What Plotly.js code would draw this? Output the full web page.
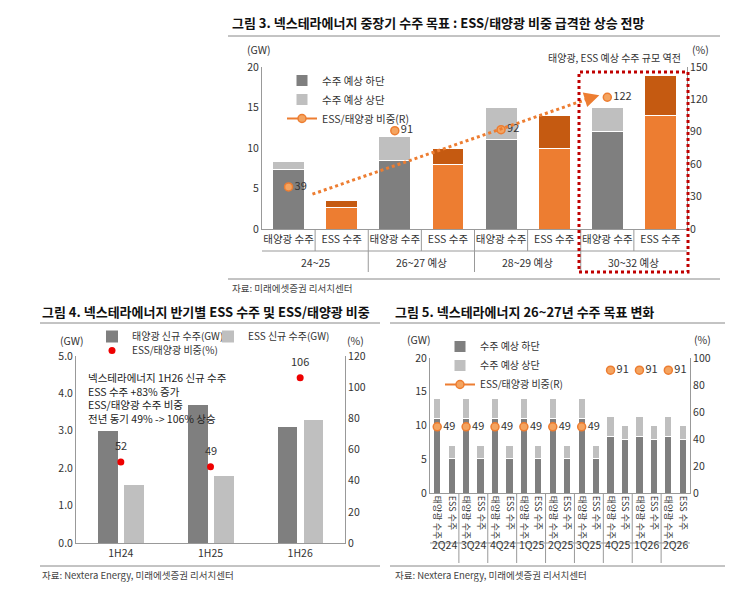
<!DOCTYPE html>
<html><head><meta charset="utf-8">
<script src="https://cdn.plot.ly/plotly-3.0.1.min.js"></script>
<style>body{margin:0;background:#fff}#c{width:748px;height:602px}</style>
</head><body><div id="c"></div>
<script>
// ---- chart 1: 중장기 수주 목표
var c1Labels = ['태양광 수주','ESS 수주','태양광 수주','ESS 수주','태양광 수주','ESS 수주','태양광 수주','ESS 수주'];
var c1Groups = ['24~25','26~27 예상','28~29 예상','30~32 예상'];
var c1SolarLow = [7.4, 8.5, 11, 12];
var c1SolarHigh = [8.3, 11.4, 15, 15];
var c1EssLow = [2.6, 8, 10, 14];
var c1EssHigh = [3.5, 10, 14, 19];
var c1Ratio = [39, 91, 92, 122];

// ---- chart 2: 반기별 ESS 수주
var c2Cats = ['1H24','1H25','1H26'];
var c2Solar = [3.0, 3.7, 3.1];
var c2Ess = [1.55, 1.8, 3.3];
var c2Ratio = [52, 49, 106];

// ---- chart 3: 26~27년 수주 목표 변화
var c3Quarters = ['2Q24','3Q24','4Q24','1Q25','2Q25','3Q25','4Q25','1Q26','2Q26'];
var c3SolarLow = [11, 11, 11, 11, 11, 11, 8.4, 8.4, 8.4];
var c3SolarHigh = [14, 14, 14, 14, 14, 14, 11.4, 11.4, 11.4];
var c3EssLow = [5.1, 5.1, 5.1, 5.1, 5.1, 5.1, 7.9, 7.9, 7.9];
var c3EssHigh = [7.1, 7.1, 7.1, 7.1, 7.1, 7.1, 10, 10, 10];
var c3Ratio = [49, 49, 49, 49, 49, 49, 91, 91, 91];

var FONT = 'Noto Sans CJK KR, Noto Sans, sans-serif';
var DG = '#7f7f7f', LG = '#bfbfbf', OR = '#ed7d31', DOR = '#c55a11';
function fx(p){return p/748;}
function fy(p){return 1-p/602;}

var traces = [];
function idx(arr, off){return arr.map(function(_,i){return 2*i+off;});}
function interleave(a, gap){var r=[];a.forEach(function(v){r.push(v);r.push(gap);});return r;}
function pairs(n){var r=[];for(var i=0;i<n;i++){r.push(2*i);r.push(2*i+1);}return r;}
// chart 1 traces
traces.push({type:'bar',x:idx(c1SolarLow,0),y:c1SolarLow,name:'수주 예상 하단',marker:{color:DG,line:{color:'#fff',width:1}},width:0.6,xaxis:'x',yaxis:'y',legend:'legend'});
traces.push({type:'bar',x:idx(c1SolarLow,0),y:c1SolarHigh.map(function(v,i){return v-c1SolarLow[i];}),name:'수주 예상 상단',marker:{color:LG,line:{color:'#fff',width:1}},width:0.6,xaxis:'x',yaxis:'y',legend:'legend'});
traces.push({type:'bar',x:idx(c1EssLow,1),y:c1EssLow,showlegend:false,marker:{color:OR,line:{color:'#fff',width:1}},width:0.6,xaxis:'x',yaxis:'y'});
traces.push({type:'bar',x:idx(c1EssLow,1),y:c1EssHigh.map(function(v,i){return v-c1EssLow[i];}),showlegend:false,marker:{color:DOR,line:{color:'#fff',width:1}},width:0.6,xaxis:'x',yaxis:'y'});
traces.push({type:'scatter',mode:'lines+markers+text',x:pairs(c1Ratio.length),y:interleave(c1Ratio,null),connectgaps:false,
  text:interleave(c1Ratio.map(String),''),textposition:'middle right',textfont:{size:11,color:'#333'},
  name:'ESS/태양광 비중(R)',line:{color:OR,width:2},marker:{color:'#f4a460',size:8,line:{color:OR,width:1.5}},xaxis:'x',yaxis:'y2',legend:'legend'});

// chart 2 traces
traces.push({type:'bar',x:c2Cats,y:c2Solar,name:'태양광 신규 수주(GW)',marker:{color:DG},width:0.22,offset:-0.25,offsetgroup:'s',xaxis:'x2',yaxis:'y3',legend:'legend2'});
traces.push({type:'bar',x:c2Cats,y:c2Ess,name:'ESS 신규 수주(GW)',marker:{color:LG},width:0.22,offset:0.04,offsetgroup:'e',xaxis:'x2',yaxis:'y3',legend:'legend5'});
traces.push({type:'scatter',mode:'markers',x:c2Cats,y:c2Ratio,name:'ESS/태양광 비중(%)',marker:{color:'#e00',size:7},xaxis:'x2',yaxis:'y4',legend:'legend4'});

// chart 3 traces
var n3 = c3Quarters.length;
traces.push({type:'bar',x:idx(c3SolarLow,0),y:c3SolarLow,name:'수주 예상 하단',marker:{color:DG,line:{color:'#fff',width:1}},width:0.5,xaxis:'x3',yaxis:'y5',legend:'legend3'});
traces.push({type:'bar',x:idx(c3SolarLow,0),y:c3SolarHigh.map(function(v,i){return v-c3SolarLow[i];}),name:'수주 예상 상단',marker:{color:LG,line:{color:'#fff',width:1}},width:0.5,xaxis:'x3',yaxis:'y5',legend:'legend3'});
traces.push({type:'bar',x:idx(c3EssLow,1),y:c3EssLow,showlegend:false,marker:{color:DG,line:{color:'#fff',width:1}},width:0.5,xaxis:'x3',yaxis:'y5'});
traces.push({type:'bar',x:idx(c3EssLow,1),y:c3EssHigh.map(function(v,i){return v-c3EssLow[i];}),showlegend:false,marker:{color:LG,line:{color:'#fff',width:1}},width:0.5,xaxis:'x3',yaxis:'y5'});
traces.push({type:'scatter',mode:'lines+markers+text',x:pairs(n3),y:interleave(c3Ratio,null),connectgaps:false,
  text:interleave(c3Ratio.map(String),''),textposition:'middle right',textfont:{size:11,color:'#333'},
  name:'ESS/태양광 비중(R)',line:{color:OR,width:2},marker:{color:'#f4a460',size:8,line:{color:OR,width:1.5}},xaxis:'x3',yaxis:'y6',legend:'legend3'});

var tickF = {size:10.5,color:'#333',family:FONT};
var axBase = {showgrid:false,zeroline:false,ticks:'',tickfont:tickF,showline:true,linecolor:'#999'};
var c3Labels = [];
c3Quarters.forEach(function(){c3Labels.push('태양광 수주');c3Labels.push('ESS 수주');});

var legBase = {xanchor:'left',yanchor:'top',bgcolor:'rgba(0,0,0,0)',traceorder:'normal',tracegroupgap:0,itemwidth:30};
var layout = {
  width:748,height:602,margin:{l:0,r:0,t:0,b:0},paper_bgcolor:'#fff',plot_bgcolor:'rgba(0,0,0,0)',
  font:{family:FONT,color:'#333'},barmode:'stack',showlegend:true,
  xaxis:Object.assign({},axBase,{domain:[fx(262),fx(687)],range:[-0.5,7.5],tickvals:[0,1,2,3,4,5,6,7],ticktext:c1Labels,anchor:'y'}),
  yaxis:Object.assign({},axBase,{domain:[fy(229),fy(67)],range:[0,20],dtick:5,anchor:'x'}),
  yaxis2:Object.assign({},axBase,{overlaying:'y',side:'right',range:[0,150],dtick:30,anchor:'x'}),
  xaxis2:Object.assign({},axBase,{domain:[fx(76),fx(345)],anchor:'y3'}),
  yaxis3:Object.assign({},axBase,{domain:[fy(543),fy(356)],range:[0,5],dtick:1,tickformat:'.1f',anchor:'x2'}),
  yaxis4:Object.assign({},axBase,{overlaying:'y3',side:'right',range:[0,120],dtick:20,anchor:'x2'}),
  xaxis3:Object.assign({},axBase,{domain:[fx(430),fx(690)],range:[-0.5,2*n3-0.5],tickvals:c3Labels.map(function(_,i){return i;}),ticktext:c3Labels,tickangle:90,anchor:'y5',tickfont:{size:9,color:'#333',family:FONT}}),
  yaxis5:Object.assign({},axBase,{domain:[fy(493),fy(358)],range:[0,20],dtick:5,anchor:'x3'}),
  yaxis6:Object.assign({},axBase,{overlaying:'y5',side:'right',range:[0,100],dtick:20,anchor:'x3'}),
  legend:Object.assign({},legBase,{x:fx(282),y:fy(66),font:{size:10.5}}),
  legend2:Object.assign({},legBase,{x:fx(92),y:fy(322),font:{size:10},itemwidth:12}),
  legend5:Object.assign({},legBase,{x:fx(208),y:fy(322),font:{size:10},itemwidth:12}),
  legend4:Object.assign({},legBase,{x:fx(92),y:fy(336),font:{size:10},itemwidth:12}),
  legend3:Object.assign({},legBase,{x:fx(440),y:fy(332),font:{size:10}}),
  shapes:[],annotations:[]
};
var S = layout.shapes, A = layout.annotations;
function hline(x0,x1,y,c){S.push({type:'line',xref:'paper',yref:'paper',x0:fx(x0),x1:fx(x1),y0:fy(y),y1:fy(y),line:{color:c||'#999',width:1}});}
function txt(t,x,y,o){A.push(Object.assign({text:t,xref:'paper',yref:'paper',x:fx(x),y:fy(y),showarrow:false,xanchor:'left',yanchor:'middle',font:{size:10.5,color:'#333'}},o||{}));}

// titles
txt('<b>그림 3. 넥스테라에너지 중장기 수주 목표 : ESS/태양광 비중 급격한 상승 전망</b>',230,22,{font:{size:13,color:'#111'}});
hline(228,720,36,'#888');
txt('<b>그림 4. 넥스테라에너지 반기별 ESS 수주 및 ESS/태양광 비중</b>',40,311,{font:{size:13,color:'#111'}});
hline(40,380,323,'#888');
txt('<b>그림 5. 넥스테라에너지 26~27년 수주 목표 변화</b>',393,311,{font:{size:13,color:'#111'}});
hline(390,725,323,'#888');
// sources
hline(228,720,279,'#888');
txt('자료: 미래에셋증권 리서치센터',230,288,{font:{size:9.5,color:'#444'}});
hline(40,380,566,'#888'); hline(390,725,566,'#888');
txt('자료: Nextera Energy, 미래에셋증권 리서치센터',40,575,{font:{size:9.5,color:'#444'}});
txt('자료: Nextera Energy, 미래에셋증권 리서치센터',393,575,{font:{size:9.5,color:'#444'}});
// unit labels
txt('(GW)',245,50); txt('(%)',690,50);
txt('태양광, ESS 예상 수주 규모 역전',683,58,{xanchor:'right',font:{size:10,color:'#333'}});
txt('(GW)',58,340); txt('(%)',345,340);
txt('(GW)',405,339); txt('(%)',692,339);

// chart1 category dividers
hline(262,687,251,'#999');
for (var k=0;k<7;k++){
  S.push({type:'line',xref:'x',yref:'paper',x0:k+0.5,x1:k+0.5,y0:fy(229),y1:fy(k%2===1?272:251),line:{color:'#999',width:1}});
}
c1Groups.forEach(function(g,i){A.push({text:g,xref:'x',yref:'paper',x:2*i+0.5,y:fy(262),showarrow:false,font:{size:10.5,color:'#333'}});});
// dotted trend arrow
S.push({type:'line',xref:'x',yref:'y',x0:0.45,y0:4.3,x1:5.65,y1:16.1,line:{color:OR,width:3,dash:'dot'}});
A.push({xref:'x',yref:'y',axref:'x',ayref:'y',x:5.85,y:16.5,ax:5.6,ay:16.0,showarrow:true,arrowhead:2,arrowsize:1,arrowwidth:3,arrowcolor:OR,text:''});
// red dotted box
S.push({type:'rect',xref:'paper',yref:'paper',x0:fx(579),x1:fx(688),y0:fy(272),y1:fy(72),line:{color:'#c00000',width:3,dash:'dot'}});

// chart2 labels
c2Cats.forEach(function(c,i){A.push({text:String(c2Ratio[i]),xref:'x2',yref:'y4',x:c,y:c2Ratio[i],yshift:17,showarrow:false,font:{size:11,color:'#333'}});});
txt('넥스테라에너지 1H26 신규 수주<br>ESS 수주 +83% 증가<br>ESS/태양광 수주 비중<br>전년 동기 49% -> 106% 상승',86,398,{align:'left',font:{size:10.5,color:'#222'}});

// chart3 quarter labels
hline(430,690,543,'#999');
for (var q=1;q<n3;q++){
  S.push({type:'line',xref:'x3',yref:'paper',x0:2*q-0.5,x1:2*q-0.5,y0:fy(493),y1:fy(563),line:{color:'#999',width:1}});
}
c3Quarters.forEach(function(qn,i){A.push({text:qn,xref:'x3',yref:'paper',x:2*i+0.5,y:fy(554),showarrow:false,font:{size:10.5,color:'#333'}});});

Plotly.newPlot('c', traces, layout, {staticPlot:true});
</script></body></html>
